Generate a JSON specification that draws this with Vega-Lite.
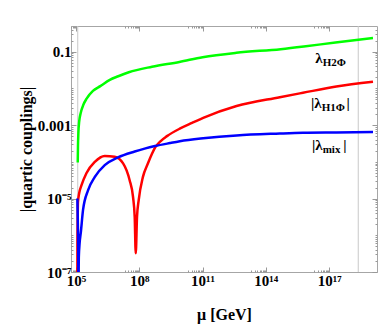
{
  "$schema": "https://vega.github.io/schema/vega-lite/v6.json",
  "width": 306,
  "height": 246,
  "autosize": {"type": "none"},
  "padding": {"left": 71, "top": 26, "right": 6, "bottom": 55},
  "background": "white",
  "config": {
    "view": {"stroke": "#a6a6a6", "strokeWidth": 1},
    "font": "Liberation Serif",
    "axis": {
      "domain": false,
      "grid": false,
      "labelFont": "Liberation Serif",
      "labelFontWeight": "bold",
      "labelFontSize": 15,
      "labelColor": "black",
      "labelOverlap": false,
      "tickColor": "#999999",
      "titleFont": "Liberation Serif",
      "titleFontWeight": "bold",
      "titleFontSize": 16,
      "titleColor": "black"
    },
    "axisX": {
      "tickSize": {"condition": {"test": "datum.value == 1e5 || datum.value == 1e8 || datum.value == 1e11 || datum.value == 1e14 || datum.value == 1e17", "value": -5}, "value": -2}
    },
    "axisY": {
      "tickSize": {"condition": {"test": "datum.value == 1e-7 || datum.value == 1e-5 || datum.value == 0.001 || datum.value == 0.1", "value": -5}, "value": -2}
    }
  },
  "datasets": {
    "curves": [
      {"series": "lambda_H2Phi", "mu": 1.20e5, "lam": 9.55e-5},
      {"series": "lambda_H2Phi", "mu": 1.23e5, "lam": 2.51e-4},
      {"series": "lambda_H2Phi", "mu": 1.29e5, "lam": 6.31e-4},
      {"series": "lambda_H2Phi", "mu": 1.41e5, "lam": 1.26e-3},
      {"series": "lambda_H2Phi", "mu": 1.66e5, "lam": 2.14e-3},
      {"series": "lambda_H2Phi", "mu": 2.24e5, "lam": 3.63e-3},
      {"series": "lambda_H2Phi", "mu": 3.16e5, "lam": 5.25e-3},
      {"series": "lambda_H2Phi", "mu": 6.31e5, "lam": 8.51e-3},
      {"series": "lambda_H2Phi", "mu": 1.41e6, "lam": 1.15e-2},
      {"series": "lambda_H2Phi", "mu": 3.98e6, "lam": 1.70e-2},
      {"series": "lambda_H2Phi", "mu": 1.00e7, "lam": 2.14e-2},
      {"series": "lambda_H2Phi", "mu": 3.16e7, "lam": 2.75e-2},
      {"series": "lambda_H2Phi", "mu": 3.98e8, "lam": 3.89e-2},
      {"series": "lambda_H2Phi", "mu": 7.94e9, "lam": 5.25e-2},
      {"series": "lambda_H2Phi", "mu": 1.00e11, "lam": 7.08e-2},
      {"series": "lambda_H2Phi", "mu": 3.98e12, "lam": 9.33e-2},
      {"series": "lambda_H2Phi", "mu": 5.01e14, "lam": 0.117},
      {"series": "lambda_H2Phi", "mu": 6.31e15, "lam": 0.138},
      {"series": "lambda_H2Phi", "mu": 2.00e17, "lam": 0.178},
      {"series": "lambda_H2Phi", "mu": 1.20e19, "lam": 0.234},

      {"series": "lambda_H1Phi", "mu": 1.15e5, "lam": 3.16e-8},
      {"series": "lambda_H1Phi", "mu": 1.16e5, "lam": 6.31e-7},
      {"series": "lambda_H1Phi", "mu": 1.19e5, "lam": 2.51e-6},
      {"series": "lambda_H1Phi", "mu": 1.23e5, "lam": 7.94e-6},
      {"series": "lambda_H1Phi", "mu": 1.41e5, "lam": 1.41e-5},
      {"series": "lambda_H1Phi", "mu": 1.78e5, "lam": 2.24e-5},
      {"series": "lambda_H1Phi", "mu": 3.09e5, "lam": 4.90e-5},
      {"series": "lambda_H1Phi", "mu": 7.76e5, "lam": 1.00e-4},
      {"series": "lambda_H1Phi", "mu": 2.29e6, "lam": 1.45e-4},
      {"series": "lambda_H1Phi", "mu": 6.76e6, "lam": 1.38e-4},
      {"series": "lambda_H1Phi", "mu": 1.70e7, "lam": 9.12e-5},
      {"series": "lambda_H1Phi", "mu": 3.47e7, "lam": 3.16e-5},
      {"series": "lambda_H1Phi", "mu": 5.01e7, "lam": 1.12e-5},
      {"series": "lambda_H1Phi", "mu": 6.03e7, "lam": 3.16e-6},
      {"series": "lambda_H1Phi", "mu": 6.76e7, "lam": 3.24e-7},
      {"series": "lambda_H1Phi", "mu": 7.76e7, "lam": 3.16e-6},
      {"series": "lambda_H1Phi", "mu": 9.33e7, "lam": 9.12e-6},
      {"series": "lambda_H1Phi", "mu": 1.48e8, "lam": 3.89e-5},
      {"series": "lambda_H1Phi", "mu": 2.57e8, "lam": 9.12e-5},
      {"series": "lambda_H1Phi", "mu": 3.98e8, "lam": 1.66e-4},
      {"series": "lambda_H1Phi", "mu": 5.75e8, "lam": 2.51e-4},
      {"series": "lambda_H1Phi", "mu": 1.00e9, "lam": 3.63e-4},
      {"series": "lambda_H1Phi", "mu": 2.04e9, "lam": 5.01e-4},
      {"series": "lambda_H1Phi", "mu": 8.71e9, "lam": 8.13e-4},
      {"series": "lambda_H1Phi", "mu": 3.16e10, "lam": 1.15e-3},
      {"series": "lambda_H1Phi", "mu": 1.07e11, "lam": 1.58e-3},
      {"series": "lambda_H1Phi", "mu": 4.07e12, "lam": 3.31e-3},
      {"series": "lambda_H1Phi", "mu": 4.57e14, "lam": 5.75e-3},
      {"series": "lambda_H1Phi", "mu": 5.75e15, "lam": 7.59e-3},
      {"series": "lambda_H1Phi", "mu": 2.19e17, "lam": 1.12e-2},
      {"series": "lambda_H1Phi", "mu": 1.20e19, "lam": 1.51e-2},

      {"series": "lambda_mix", "mu": 1.15e5, "lam": 1.00e-5},
      {"series": "lambda_mix", "mu": 1.20e5, "lam": 3.16e-6},
      {"series": "lambda_mix", "mu": 1.26e5, "lam": 5.01e-7},
      {"series": "lambda_mix", "mu": 1.30e5, "lam": 3.16e-8},
      {"series": "lambda_mix", "mu": 1.35e5, "lam": 2.51e-7},
      {"series": "lambda_mix", "mu": 1.48e5, "lam": 6.31e-7},
      {"series": "lambda_mix", "mu": 1.66e5, "lam": 1.12e-6},
      {"series": "lambda_mix", "mu": 2.14e5, "lam": 4.90e-6},
      {"series": "lambda_mix", "mu": 3.72e5, "lam": 1.70e-5},
      {"series": "lambda_mix", "mu": 7.76e5, "lam": 3.89e-5},
      {"series": "lambda_mix", "mu": 2.29e6, "lam": 8.13e-5},
      {"series": "lambda_mix", "mu": 9.77e6, "lam": 1.32e-4},
      {"series": "lambda_mix", "mu": 6.03e7, "lam": 1.91e-4},
      {"series": "lambda_mix", "mu": 1.78e8, "lam": 2.29e-4},
      {"series": "lambda_mix", "mu": 5.50e8, "lam": 2.69e-4},
      {"series": "lambda_mix", "mu": 2.82e9, "lam": 3.24e-4},
      {"series": "lambda_mix", "mu": 8.32e9, "lam": 3.63e-4},
      {"series": "lambda_mix", "mu": 1.07e11, "lam": 4.37e-4},
      {"series": "lambda_mix", "mu": 4.07e12, "lam": 5.25e-4},
      {"series": "lambda_mix", "mu": 4.57e14, "lam": 5.89e-4},
      {"series": "lambda_mix", "mu": 5.75e15, "lam": 6.17e-4},
      {"series": "lambda_mix", "mu": 2.19e17, "lam": 6.31e-4},
      {"series": "lambda_mix", "mu": 1.20e19, "lam": 6.46e-4}
    ],
    "vlines": [{"mu": 1.2e5}, {"mu": 2.4e18}],
    "labels": [
      {"part": "main", "text": "λ", "mu": 4.95e16, "lam": 0.0673},
      {"part": "sub", "text": "H2Φ", "mu": 4.95e16, "lam": 0.0492},
      {"part": "main", "text": "|λ", "mu": 4.45e16, "lam": 0.0040},
      {"part": "sub", "text": "H1Φ", "mu": 4.45e16, "lam": 0.00292},
      {"part": "bar", "text": "|", "mu": 8.0e17, "lam": 0.0040},
      {"part": "main", "text": "|λ", "mu": 4.95e16, "lam": 2.87e-4},
      {"part": "sub", "text": "mix", "mu": 4.95e16, "lam": 2.10e-4},
      {"part": "bar", "text": "|", "mu": 5.6e17, "lam": 2.87e-4}
    ]
  },
  "layer": [
    {
      "layer": [
        {
          "data": {"name": "vlines"},
          "mark": {"type": "rule", "color": "#c8c8c8", "strokeWidth": 1},
          "encoding": {
            "x": {"field": "mu", "type": "quantitative",
              "scale": {"type": "log", "domain": [5.75e4, 1.86e19], "nice": false}}
          }
        },
        {
          "data": {"name": "curves"},
          "mark": {"type": "line", "strokeWidth": 2.5, "clip": true, "interpolate": "monotone"},
          "encoding": {
            "x": {"field": "mu", "type": "quantitative",
              "scale": {"type": "log", "domain": [5.75e4, 1.86e19], "nice": false},
              "axis": {"orient": "bottom", "title": "μ [GeV]",
                "values": [6e4, 7e4, 8e4, 9e4, 1e5, 2e7, 3e7, 4e7, 5e7, 6e7, 7e7, 8e7, 9e7, 1e8, 2e10, 3e10, 4e10, 5e10, 6e10, 7e10, 8e10, 9e10, 1e11, 2e13, 3e13, 4e13, 5e13, 6e13, 7e13, 8e13, 9e13, 1e14, 2e16, 3e16, 4e16, 5e16, 6e16, 7e16, 8e16, 9e16, 1e17],
                "labelExpr": "datum.value == 1e5 ? '10⁵' : datum.value == 1e8 ? '10⁸' : datum.value == 1e11 ? '10¹¹' : datum.value == 1e14 ? '10¹⁴' : datum.value == 1e17 ? '10¹⁷' : ''",
                "labelPadding": 6, "titlePadding": 15}},
            "y": {"field": "lam", "type": "quantitative",
              "scale": {"type": "log", "domain": [1e-7, 0.5], "nice": false},
              "axis": {"orient": "left", "title": "|quartic couplings|",
                "values": [1e-7, 2e-7, 3e-7, 4e-7, 5e-7, 6e-7, 7e-7, 8e-7, 9e-7, 1e-6, 2e-6, 3e-6, 4e-6, 5e-6, 6e-6, 7e-6, 8e-6, 9e-6, 1e-5, 2e-5, 3e-5, 4e-5, 5e-5, 6e-5, 7e-5, 8e-5, 9e-5, 1e-4, 2e-4, 3e-4, 4e-4, 5e-4, 6e-4, 7e-4, 8e-4, 9e-4, 0.001, 0.002, 0.003, 0.004, 0.005, 0.006, 0.007, 0.008, 0.009, 0.01, 0.02, 0.03, 0.04, 0.05, 0.06, 0.07, 0.08, 0.09, 0.1, 0.2, 0.3, 0.4],
                "labelExpr": "datum.value == 0.1 ? '0.1' : datum.value == 0.001 ? '0.001' : datum.value == 1e-5 ? '10⁻⁵' : datum.value == 1e-7 ? '10⁻⁷' : ''",
                "labelPadding": 5, "titlePadding": 3}},
            "color": {"field": "series", "type": "nominal", "legend": null,
              "scale": {"domain": ["lambda_H2Phi", "lambda_H1Phi", "lambda_mix"], "range": ["#00ff00", "#ff0000", "#0000ff"]}},
            "order": {"field": "mu", "type": "quantitative"}
          }
        },
        {
          "data": {"name": "labels"},
          "transform": [{"filter": "datum.part == 'main'"}],
          "mark": {"type": "text", "align": "right", "baseline": "middle", "fontSize": 15, "fontWeight": "bold", "font": "Liberation Serif", "color": "black"},
          "encoding": {
            "x": {"field": "mu", "type": "quantitative"},
            "y": {"field": "lam", "type": "quantitative"},
            "text": {"field": "text"}
          }
        },
        {
          "data": {"name": "labels"},
          "transform": [{"filter": "datum.part == 'sub'"}],
          "mark": {"type": "text", "align": "left", "baseline": "middle", "fontSize": 11, "fontWeight": "bold", "font": "Liberation Serif", "color": "black"},
          "encoding": {
            "x": {"field": "mu", "type": "quantitative"},
            "y": {"field": "lam", "type": "quantitative"},
            "text": {"field": "text"}
          }
        },
        {
          "data": {"name": "labels"},
          "transform": [{"filter": "datum.part == 'bar'"}],
          "mark": {"type": "text", "align": "center", "baseline": "middle", "fontSize": 15, "fontWeight": "bold", "font": "Liberation Serif", "color": "black"},
          "encoding": {
            "x": {"field": "mu", "type": "quantitative"},
            "y": {"field": "lam", "type": "quantitative"},
            "text": {"field": "text"}
          }
        }
      ]
    },
    {
      "data": {"name": "curves"},
      "mark": {"type": "point", "opacity": 0},
      "encoding": {
        "x": {"field": "mu", "type": "quantitative",
          "scale": {"type": "log", "domain": [5.75e4, 1.86e19], "nice": false},
          "axis": {"orient": "top", "title": null, "labels": false,
            "values": [6e4, 7e4, 8e4, 9e4, 1e5, 2e7, 3e7, 4e7, 5e7, 6e7, 7e7, 8e7, 9e7, 1e8, 2e10, 3e10, 4e10, 5e10, 6e10, 7e10, 8e10, 9e10, 1e11, 2e13, 3e13, 4e13, 5e13, 6e13, 7e13, 8e13, 9e13, 1e14, 2e16, 3e16, 4e16, 5e16, 6e16, 7e16, 8e16, 9e16, 1e17]}},
        "y": {"field": "lam", "type": "quantitative",
          "scale": {"type": "log", "domain": [1e-7, 0.5], "nice": false},
          "axis": {"orient": "right", "title": null, "labels": false,
            "values": [1e-7, 2e-7, 3e-7, 4e-7, 5e-7, 6e-7, 7e-7, 8e-7, 9e-7, 1e-6, 2e-6, 3e-6, 4e-6, 5e-6, 6e-6, 7e-6, 8e-6, 9e-6, 1e-5, 2e-5, 3e-5, 4e-5, 5e-5, 6e-5, 7e-5, 8e-5, 9e-5, 1e-4, 2e-4, 3e-4, 4e-4, 5e-4, 6e-4, 7e-4, 8e-4, 9e-4, 0.001, 0.002, 0.003, 0.004, 0.005, 0.006, 0.007, 0.008, 0.009, 0.01, 0.02, 0.03, 0.04, 0.05, 0.06, 0.07, 0.08, 0.09, 0.1, 0.2, 0.3, 0.4]}}
      }
    }
  ],
  "resolve": {"axis": {"x": "independent", "y": "independent"}}
}
